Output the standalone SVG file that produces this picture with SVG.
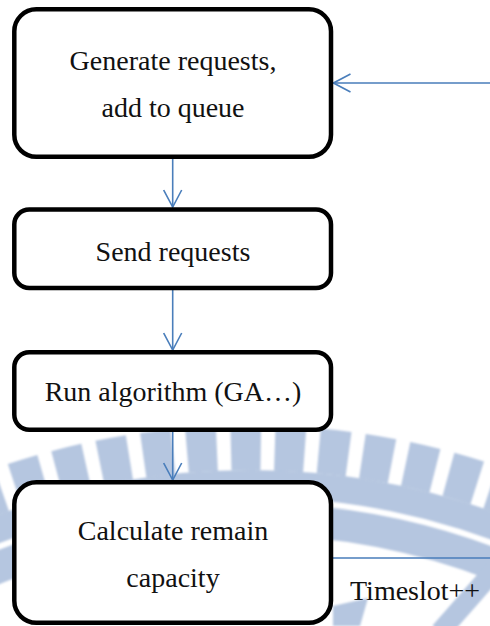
<svg xmlns="http://www.w3.org/2000/svg" width="490" height="626" viewBox="0 0 490 626">
  <style>
    .box { fill: #ffffff; stroke: #000000; stroke-width: 4.5; }
    .label { font-family: "Liberation Serif", "Times New Roman", serif; font-size: 28px; fill: #111111; text-anchor: middle; }
    .note { font-family: "Liberation Serif", "Times New Roman", serif; font-size: 28px; fill: #111111; }
    .flow { fill: none; stroke: #4a7ebb; stroke-width: 1.6; }
    .mark { fill: none; stroke: #b5c6e0; }
  </style>
  <defs>
    <marker id="open-arrow" viewBox="0 0 20 20" refX="19" refY="10" markerWidth="20" markerHeight="20" orient="auto" markerUnits="userSpaceOnUse">
      <path d="M2,1 L19,10 L2,19" fill="none" stroke="#4a7ebb" stroke-width="1.6"/>
    </marker>
    <filter id="soft" x="-5%" y="-5%" width="110%" height="110%">
      <feGaussianBlur stdDeviation="0.8"/>
    </filter>
  </defs>

  <rect width="490" height="626" fill="#ffffff"/>

  <!-- background seal: toothed ring with inner bands -->
  <g id="watermark" filter="url(#soft)">
    <path class="mark" d="M -502.5 1200 A 752.5 752.5 0 0 1 1002.5 1200" stroke-width="45" stroke-dasharray="30 14" stroke-dashoffset="25.5"/>
    <path class="mark" d="M -466.5 1200 A 716.5 716.5 0 0 1 966.5 1200" stroke-width="27"/>
    <path class="mark" d="M -431 1200 A 681 681 0 0 1 931 1200" stroke-width="32"/>
    <path class="mark" d="M 498 566 L 440 632" stroke-width="20"/>
    <path d="M 333 606 L 368 598 L 360 626 L 333 626 Z" fill="#b5c6e0"/>
  </g>

  <!-- connectors -->
  <g id="connectors">
    <line class="flow" x1="172.7" y1="159" x2="172.7" y2="207" marker-end="url(#open-arrow)"/>
    <line class="flow" x1="172.7" y1="290" x2="172.7" y2="350" marker-end="url(#open-arrow)"/>
    <line class="flow" x1="172.7" y1="432" x2="172.7" y2="480" marker-end="url(#open-arrow)"/>
    <path class="flow" d="M 333 558 L 500 558 L 500 83 L 333.5 83" marker-end="url(#open-arrow)"/>
  </g>

  <g id="generate">
    <rect class="box" x="14.3" y="9.3" width="316.7" height="147.5" rx="22" ry="22"/>
    <text class="label" x="173" y="70">Generate requests,</text>
    <text class="label" x="173" y="117">add to queue</text>
  </g>

  <g id="send">
    <rect class="box" x="14.3" y="209.5" width="316.7" height="78.5" rx="15" ry="15"/>
    <text class="label" x="173" y="261">Send requests</text>
  </g>

  <g id="run">
    <rect class="box" x="14.3" y="352.3" width="316.7" height="77.5" rx="15" ry="15"/>
    <text class="label" x="173" y="401">Run algorithm (GA…)</text>
  </g>

  <g id="calculate">
    <rect class="box" x="14.3" y="482.3" width="316.7" height="140.5" rx="22" ry="22"/>
    <text class="label" x="173" y="540">Calculate remain</text>
    <text class="label" x="173" y="587">capacity</text>
  </g>

  <text id="timeslot-label" class="note" x="350" y="600">Timeslot++</text>
</svg>
